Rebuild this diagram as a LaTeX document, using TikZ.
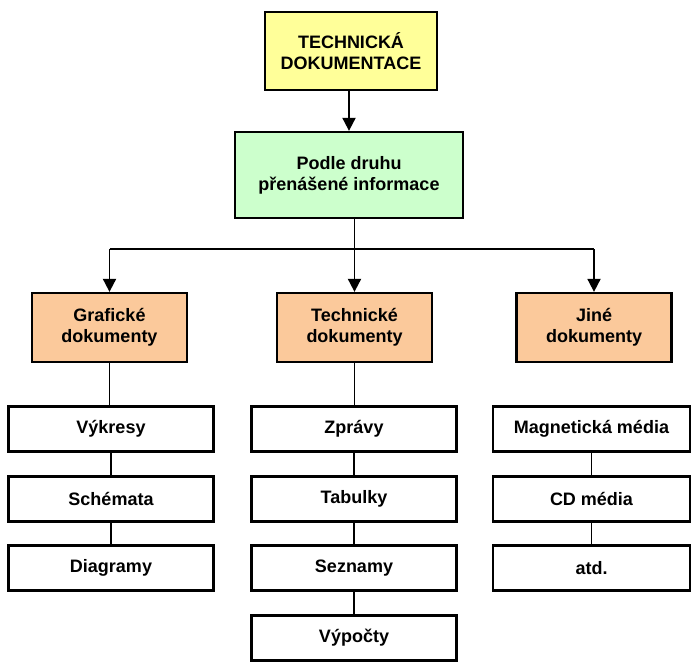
\documentclass[tikz,border=0pt]{standalone}
\usepackage{fontspec}
\setmainfont{Liberation Sans}
\usetikzlibrary{arrows.meta}

\definecolor{topyellow}{HTML}{FFFF99}
\definecolor{midgreen}{HTML}{CCFFCC}
\definecolor{grouporange}{HTML}{FBC99B}

\tikzset{
  box/.style={draw=black, line width=2.3pt, align=center, inner sep=0pt,
    font=\fontsize{18}{21}\selectfont\bfseries},
  rootbox/.style={box, fill=topyellow, minimum width=172pt, minimum height=78pt},
  kindbox/.style={box, fill=midgreen, minimum width=228pt, minimum height=86pt},
  groupbox/.style={box, fill=grouporange, minimum width=155pt, minimum height=69pt},
  leafbox/.style={box, fill=white, minimum width=205pt, minimum height=45pt},
  link/.style={line width=1.9pt},
  arr/.style={link, -{Triangle[width=13pt,length=13pt]}}
}

\begin{document}
\begin{tikzpicture}[x=1pt,y=-1pt]
  \useasboundingbox (0,0) rectangle (692,662);

  % top levels
  \node[rootbox] (root) at (351,51) {TECHNICKÁ\\DOKUMENTACE};
  \node[kindbox] (kind) at (349,175) {Podle druhu\\přenášené informace};

  % three groups of documents
  \node[groupbox] (graf) at (109.5,327.5) {Grafické\\dokumenty};
  \node[groupbox] (tech) at (354.5,327.5) {Technické\\dokumenty};
  \node[groupbox] (jine) at (594,327.5) {Jiné\\dokumenty};

  % left column
  \node[leafbox] (g1) at (111,429) {Výkresy};
  \node[leafbox] (g2) at (111,499) {Schémata};
  \node[leafbox] (g3) at (111,568) {Diagramy};

  % middle column
  \node[leafbox] (t1) at (354,429) {Zprávy};
  \node[leafbox] (t2) at (354,499) {Tabulky};
  \node[leafbox] (t3) at (354,568) {Seznamy};
  \node[leafbox] (t4) at (354,638) {Výpočty};

  % right column
  \node[leafbox, minimum width=197pt] (j1) at (591.5,429) {Magnetická média};
  \node[leafbox, minimum width=197pt] (j2) at (591.5,499) {CD média};
  \node[leafbox, minimum width=197pt] (j3) at (591.5,568) {atd.};

  % connectors
  \draw[arr] (root.south -| kind.north) -- (kind.north);
  \coordinate (bus) at (0,249);
  \draw[link] (kind.south -| tech.north) -- (tech.north |- bus);
  \draw[link] (graf.north |- bus) -- (jine.north |- bus);
  \draw[arr] (tech.north |- bus) -- (tech.north);
  \draw[arr] (graf.north |- bus) -- (graf.north);
  \draw[arr] (jine.north |- bus) -- (jine.north);

  \draw[link] (graf.south) -- (graf.south |- g1.north);
  \draw[link] (g1.south) -- (g2.north);
  \draw[link] (g2.south) -- (g3.north);

  \draw[link] (tech.south) -- (tech.south |- t1.north);
  \draw[link] (t1.south) -- (t2.north);
  \draw[link] (t2.south) -- (t3.north);
  \draw[link] (t3.south) -- (t4.north);

  \draw[link] (j1.south) -- (j2.north);
  \draw[link] (j2.south) -- (j3.north);
\end{tikzpicture}
\end{document}
